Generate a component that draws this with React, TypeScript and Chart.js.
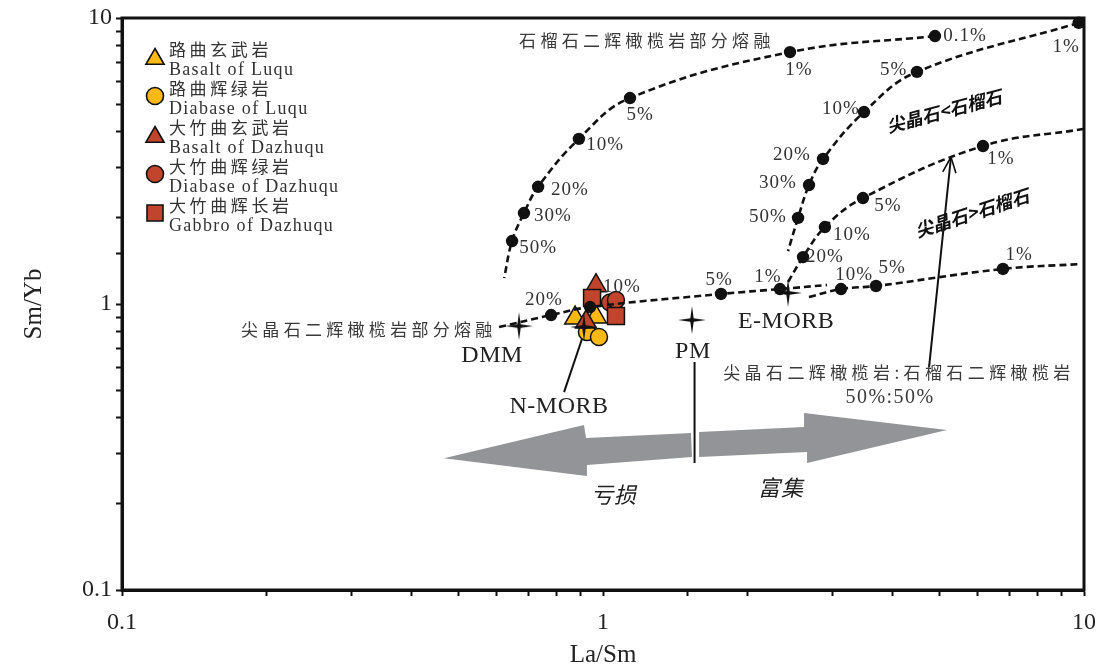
import React, { useEffect, useRef } from 'react';
import { Chart, registerables } from 'chart.js';

Chart.register(...registerables);

const INK = '#111111';
const YELLOW = '#FDB913';
const RED = '#C0452C';
const GREY = '#929497';

// ---------------- model melting curves (ordered along each curve) ----------------
// garnet lherzolite partial melting: 0.1%, 1%, 5%, 10%, 20%, 30%, 50%, curve end
const garnetMeltX = [4.9, 2.448, 1.138, 0.891, 0.733, 0.685, 0.647, 0.623];
const garnetMeltY = [8.65, 7.6, 5.25, 3.78, 2.57, 2.08, 1.66, 1.233];
const garnetMeltDot = [1, 1, 1, 1, 1, 1, 1, 0];

// spinel < garnet: 1%, 5%, 10%, 20%, 30%, 50%, curve end
const spLtGtX = [9.75, 4.495, 3.488, 2.867, 2.681, 2.544, 2.425];
const spLtGtY = [9.62, 6.48, 4.69, 3.214, 2.606, 2.0, 1.532];
const spLtGtDot = [1, 1, 1, 1, 1, 1, 0];

// spinel lherzolite : garnet lherzolite = 50% : 50%  (start, 20%, 10%, 5%, 1%, end)
const mixX = [2.425, 2.605, 2.893, 3.471, 6.166, 9.95];
const mixY = [1.194, 1.459, 1.858, 2.347, 3.567, 4.09];
const mixDot = [0, 1, 1, 1, 1, 0];

// spinel > garnet (start, 10%, 5%, 1%, end)
const spGtGtX = [2.68, 3.125, 3.695, 6.785, 9.86];
const spGtGtY = [1.058, 1.128, 1.156, 1.326, 1.38];
const spGtGtDot = [0, 1, 1, 1, 0];

// spinel lherzolite partial melting (start, 20%, 10%, 5%, 1%, end)
const spinelMeltX = [0.608, 0.78, 0.94, 1.759, 2.333, 2.923];
const spinelMeltY = [0.831, 0.915, 0.976, 1.084, 1.128, 1.165];
const spinelMeltDot = [0, 1, 1, 1, 1, 0];

// ---------------- samples ----------------
const basaltLuquX = [0.875, 0.967];
const basaltLuquY = [0.893, 0.901];
const diabaseLuquX = [0.926, 0.981];
const diabaseLuquY = [0.798, 0.767];
const basaltDazhuquX = [0.967, 0.922];
const basaltDazhuquY = [1.159, 0.865];
const diabaseDazhuquX = [1.034, 1.064];
const diabaseDazhuquY = [1.012, 1.032];
const gabbroDazhuquX = [0.949, 1.064];
const gabbroDazhuquY = [1.049, 0.908];

// ---------------- reservoirs ----------------
const reservoirNames = ['DMM', 'N-MORB', 'PM', 'E-MORB'];
const reservoirX = [0.669, 0.913, 1.531, 2.425];
const reservoirY = [0.837, 0.831, 0.879, 1.093];

// ---------------- melt-fraction labels ----------------
const pctText = [
  '0.1%', '1%', '5%', '10%', '20%', '30%', '50%',
  '1%', '5%', '10%', '20%', '30%', '50%',
  '1%', '5%', '10%', '20%',
  '10%', '5%', '1%',
  '20%', '10%', '5%', '1%',
];
const pctX = [
  5.66, 2.556, 1.194, 1.01, 0.854, 0.787, 0.733,
  9.18, 4.02, 3.125, 2.471, 2.311, 2.203,
  6.72, 3.913, 3.294, 2.893,
  3.326, 3.99, 7.33,
  0.754, 1.095, 1.743, 2.203,
];
const pctY = [
  8.65, 6.58, 4.58, 3.6, 2.504, 2.03, 1.57,
  7.92, 6.58, 4.81, 3.32, 2.65, 2.01,
  3.214, 2.2, 1.743, 1.459,
  1.263, 1.336, 1.484,
  1.033, 1.147, 1.213, 1.243,
];

// ---------------- axis ticks ----------------
const tickLabelValues = [0.1, 1, 10];

// ---------------- legend ----------------
const legendZh = ['路曲玄武岩', '路曲辉绿岩', '大竹曲玄武岩', '大竹曲辉绿岩', '大竹曲辉长岩'];
const legendEn = ['Basalt of Luqu', 'Diabase of Luqu', 'Basalt of Dazhuqu', 'Diabase of Dazhuqu', 'Gabbro of Dazhuqu'];

// ---------------- annotation geometry (data coordinates) ----------------
const leftArrowX = [0.467, 0.913, 0.922, 1.524, 1.531, 0.926, 0.926];
const leftArrowY = [0.289, 0.3776, 0.34, 0.354, 0.2917, 0.2735, 0.2505];
const rightArrowX = [1.584, 2.618, 2.618, 5.19, 2.656, 2.656, 1.584];
const rightArrowY = [0.3567, 0.3715, 0.4159, 0.3625, 0.278, 0.3038, 0.2917];

const CJK = '"Noto Sans CJK SC"';
const SERIF = '"Liberation Serif", "Times New Roman", serif';

type Note = { t: string; x: number; y: number; font: string; color: string; sp?: number; rot?: number; align?: CanvasTextAlign };
const notes: Note[] = [
  { t: '石榴石二辉橄榄岩部分熔融', x: 1.234, y: 8.31, font: `17px ${CJK}`, color: '#3a3a3a', sp: 4.3 },
  { t: '尖晶石二辉橄榄岩部分熔融', x: 0.326, y: 0.815, font: `17px ${CJK}`, color: '#3a3a3a', sp: 4.3 },
  { t: '尖晶石二辉橄榄岩:石榴石二辉橄榄岩', x: 4.124, y: 0.574, font: `17px ${CJK}`, color: '#3a3a3a', sp: 4.4 },
  { t: '50%:50%', x: 3.952, y: 0.469, font: `20px ${SERIF}`, color: '#3a3a3a', sp: 1.5 },
  { t: 'DMM', x: 0.588, y: 0.658, font: `24px ${SERIF}`, color: '#222', sp: 0.5 },
  { t: 'N-MORB', x: 0.81, y: 0.4365, font: `24px ${SERIF}`, color: '#222', sp: 0.5 },
  { t: 'PM', x: 1.538, y: 0.68, font: `24px ${SERIF}`, color: '#222', sp: 0.5 },
  { t: 'E-MORB', x: 2.402, y: 0.865, font: `24px ${SERIF}`, color: '#222', sp: 0.5 },
  { t: '尖晶石<石榴石', x: 5.12, y: 4.73, font: `italic bold 18px ${CJK}`, color: '#111', rot: -15 },
  { t: '尖晶石>石榴石', x: 5.85, y: 2.08, font: `italic bold 18px ${CJK}`, color: '#111', rot: -18 },
  { t: '亏损', x: 1.054, y: 0.2148, font: `italic 22px ${CJK}`, color: '#222', sp: 1 },
  { t: '富集', x: 2.344, y: 0.2275, font: `italic 22px ${CJK}`, color: '#222', sp: 1 },
];

// straight pointer lines: [x1, y1, x2, y2, arrowHead]
const pointerLines: [number, number, number, number, boolean][] = [
  [1.55, 0.627, 1.55, 0.278, false],
  [0.83, 0.492, 0.913, 0.792, false],
  [4.763, 0.602, 5.29, 3.266, true],
];

function makeStar(r: number) {
  const c = document.createElement('canvas');
  const s = Math.ceil(r * 2 + 2);
  c.width = s;
  c.height = s;
  const g = c.getContext('2d')!;
  const cx = s / 2, cy = s / 2, inner = r * 0.17;
  g.beginPath();
  for (let i = 0; i < 8; i++) {
    const a = -Math.PI / 2 + (i * Math.PI) / 4;
    const rr = i % 2 === 0 ? r : inner;
    const px = cx + rr * Math.cos(a), py = cy + rr * Math.sin(a);
    if (i === 0) g.moveTo(px, py);
    else g.lineTo(px, py);
  }
  g.closePath();
  g.fillStyle = INK;
  g.fill();
  return c;
}

function drawShape(ctx: CanvasRenderingContext2D, shape: string, x: number, y: number, color: string) {
  ctx.beginPath();
  if (shape === 'triangle') {
    const r = 10.5;
    for (let k = 0; k < 3; k++) {
      const a = -Math.PI / 2 + (k * 2 * Math.PI) / 3;
      const px = x + r * Math.cos(a), py = y + 2 + r * Math.sin(a);
      if (k === 0) ctx.moveTo(px, py);
      else ctx.lineTo(px, py);
    }
    ctx.closePath();
  } else if (shape === 'circle') {
    ctx.arc(x, y, 8.5, 0, Math.PI * 2);
  } else {
    ctx.rect(x - 8, y - 8, 16, 16);
  }
  ctx.fillStyle = color;
  ctx.fill();
  ctx.lineWidth = 1.6;
  ctx.strokeStyle = INK;
  ctx.stroke();
}

const legendShapes = ['triangle', 'circle', 'triangle', 'circle', 'rect'];
const legendColors = [YELLOW, YELLOW, RED, RED, RED];

const overlayPlugin = {
  id: 'overlay',
  beforeDatasetsDraw(chart: any) {
    const { ctx, chartArea: a, scales } = chart;
    const xs = scales.x, ys = scales.y;
    ctx.save();
    // grey arrows
    ctx.fillStyle = GREY;
    for (const [px, py] of [[leftArrowX, leftArrowY], [rightArrowX, rightArrowY]]) {
      ctx.beginPath();
      px.forEach((v: number, i: number) => {
        const X = xs.getPixelForValue(v), Y = ys.getPixelForValue(py[i]);
        if (i === 0) ctx.moveTo(X, Y);
        else ctx.lineTo(X, Y);
      });
      ctx.closePath();
      ctx.fill();
    }
    // pointer lines
    ctx.strokeStyle = INK;
    ctx.lineWidth = 2;
    for (const [x1, y1, x2, y2, head] of pointerLines) {
      const X1 = xs.getPixelForValue(x1), Y1 = ys.getPixelForValue(y1);
      const X2 = xs.getPixelForValue(x2), Y2 = ys.getPixelForValue(y2);
      ctx.beginPath();
      ctx.moveTo(X1, Y1);
      ctx.lineTo(X2, Y2);
      ctx.stroke();
      if (head) {
        const ang = Math.atan2(Y2 - Y1, X2 - X1);
        ctx.beginPath();
        for (const d of [-0.4, 0.4]) {
          ctx.moveTo(X2, Y2);
          ctx.lineTo(X2 - 17 * Math.cos(ang + d), Y2 - 17 * Math.sin(ang + d));
        }
        ctx.lineWidth = 1.6;
        ctx.stroke();
        ctx.lineWidth = 2;
      }
    }
    // frame
    ctx.lineWidth = 3;
    ctx.strokeStyle = INK;
    ctx.strokeRect(a.left, a.top, a.right - a.left, a.bottom - a.top);
    ctx.restore();
  },
  afterDatasetsDraw(chart: any) {
    const { ctx, chartArea: a, scales } = chart;
    const xs = scales.x, ys = scales.y;
    ctx.save();
    ctx.textBaseline = 'middle';
    // percentage labels
    ctx.font = `19px ${SERIF}`;
    ctx.fillStyle = '#333';
    ctx.textAlign = 'center';
    (ctx as any).letterSpacing = '1px';
    pctText.forEach((t, i) => {
      ctx.fillText(t, xs.getPixelForValue(pctX[i]), ys.getPixelForValue(pctY[i]));
    });
    // notes
    for (const n of notes) {
      const X = xs.getPixelForValue(n.x), Y = ys.getPixelForValue(n.y);
      ctx.save();
      ctx.font = n.font;
      ctx.fillStyle = n.color;
      ctx.textAlign = n.align || 'center';
      (ctx as any).letterSpacing = `${n.sp || 0}px`;
      ctx.translate(X, Y);
      if (n.rot) ctx.rotate((n.rot * Math.PI) / 180);
      ctx.fillText(n.t, 0, 0);
      ctx.restore();
    }
    // legend
    const lx = a.left + 33;
    legendZh.forEach((zh, i) => {
      const sy = a.top + 39 + i * 39;
      drawShape(ctx, legendShapes[i], lx, sy, legendColors[i]);
      ctx.textAlign = 'left';
      ctx.fillStyle = '#333';
      ctx.font = `17px ${CJK}`;
      (ctx as any).letterSpacing = '3.6px';
      ctx.fillText(zh, lx + 14, sy - 7);
      ctx.font = `18px ${SERIF}`;
      (ctx as any).letterSpacing = '1.3px';
      ctx.fillText(legendEn[i], lx + 14, sy + 13);
    });
    ctx.restore();
  },
};

function pts(xs: number[], ys: number[]) {
  return xs.map((x, i) => ({ x, y: ys[i] }));
}

function curve(label: string, xs: number[], ys: number[], dots: number[]) {
  return {
    label,
    data: pts(xs, ys),
    showLine: true,
    borderColor: INK,
    borderWidth: 2.6,
    borderDash: [7, 4],
    tension: 0.4,
    pointRadius: dots.map((d) => (d ? 6.2 : 0)),
    pointHoverRadius: 0,
    pointBackgroundColor: INK,
    pointBorderColor: INK,
    pointBorderWidth: 0,
    order: 0,
    clip: false,
  };
}

function sample(label: string, xs: number[], ys: number[], style: string, color: string, r: number) {
  return {
    label,
    data: pts(xs, ys),
    showLine: false,
    pointStyle: style,
    pointRadius: r,
    pointHoverRadius: r,
    pointBackgroundColor: color,
    pointBorderColor: INK,
    pointBorderWidth: 1.5,
    order: 1,
  };
}

export default function App() {
  const ref = useRef<HTMLCanvasElement | null>(null);
  useEffect(() => {
    if (!ref.current) return;
    const star = makeStar(14);
    const isLabel = (v: number) => tickLabelValues.some((t) => Math.abs(Math.log10(v) - Math.log10(t)) < 1e-6);
    const tickFont = { family: '"Liberation Serif", "Times New Roman", serif', size: 24 };
    const zeroPad = (s: any) => {
      s.paddingLeft = 0;
      s.paddingRight = 0;
      s.paddingTop = 0;
      s.paddingBottom = 0;
    };
    const chart = new Chart(ref.current, {
      type: 'scatter',
      data: {
        datasets: [
          curve('garnet', garnetMeltX, garnetMeltY, garnetMeltDot),
          curve('sp<gt', spLtGtX, spLtGtY, spLtGtDot),
          curve('mix', mixX, mixY, mixDot),
          curve('sp>gt', spGtGtX, spGtGtY, spGtGtDot),
          curve('spinel', spinelMeltX, spinelMeltY, spinelMeltDot),
          {
            label: 'reservoirs',
            data: pts(reservoirX, reservoirY),
            showLine: false,
            pointStyle: star,
            pointRadius: 14,
            pointHoverRadius: 14,
            order: 0,
          } as any,
          sample(legendEn[4], gabbroDazhuquX, gabbroDazhuquY, 'rect', RED, 12),
          sample(legendEn[3], diabaseDazhuquX, diabaseDazhuquY, 'circle', RED, 8.5),
          sample(legendEn[2], basaltDazhuquX, basaltDazhuquY, 'triangle', RED, 12),
          sample(legendEn[1], diabaseLuquX, diabaseLuquY, 'circle', YELLOW, 8.5),
          sample(legendEn[0], basaltLuquX, basaltLuquY, 'triangle', YELLOW, 12),
        ] as any,
      },
      options: {
        animation: false,
        responsive: false,
        devicePixelRatio: 1,
        layout: { padding: { top: 18, right: 15, left: 0, bottom: 0 } },
        plugins: { legend: { display: false }, tooltip: { enabled: false } },
        events: [],
        scales: {
          x: {
            type: 'logarithmic',
            min: 0.1,
            max: 10,
            afterFit: (s: any) => {
              s.height = 80;
              zeroPad(s);
            },
            grid: { drawOnChartArea: false, drawTicks: true, tickLength: 6, tickWidth: 2, tickColor: INK },
            border: { display: true, width: 3, color: INK },
            ticks: {
              autoSkip: false,
              maxRotation: 0,
              padding: 12,
              color: '#222',
              font: tickFont,
              callback: (v: any) => (isLabel(Number(v)) ? String(Number(v)) : ''),
            },
            title: { display: true, text: 'La/Sm', color: '#222', font: { family: tickFont.family, size: 25 }, padding: { top: 0, bottom: 0 } },
          },
          y: {
            type: 'logarithmic',
            min: 0.1,
            max: 10,
            afterFit: (s: any) => {
              s.width = 122;
              zeroPad(s);
            },
            grid: { drawOnChartArea: false, drawTicks: true, tickLength: 6, tickWidth: 2, tickColor: INK },
            border: { display: true, width: 3, color: INK },
            ticks: {
              autoSkip: false,
              padding: 4,
              color: '#222',
              font: tickFont,
              callback: (v: any) => (isLabel(Number(v)) ? String(Number(v)) : ''),
            },
            title: { display: true, text: 'Sm/Yb', color: '#222', font: { family: tickFont.family, size: 25 }, padding: { top: 19, bottom: 0 } },
          },
        },
      } as any,
      plugins: [overlayPlugin],
    });
    return () => chart.destroy();
  }, []);
  return (
    <div style={{ position: 'fixed', left: 0, top: 0, width: 1099, height: 670, background: '#fff' }}>
      <canvas ref={ref} width={1099} height={670} style={{ display: 'block' }} />
    </div>
  );
}
